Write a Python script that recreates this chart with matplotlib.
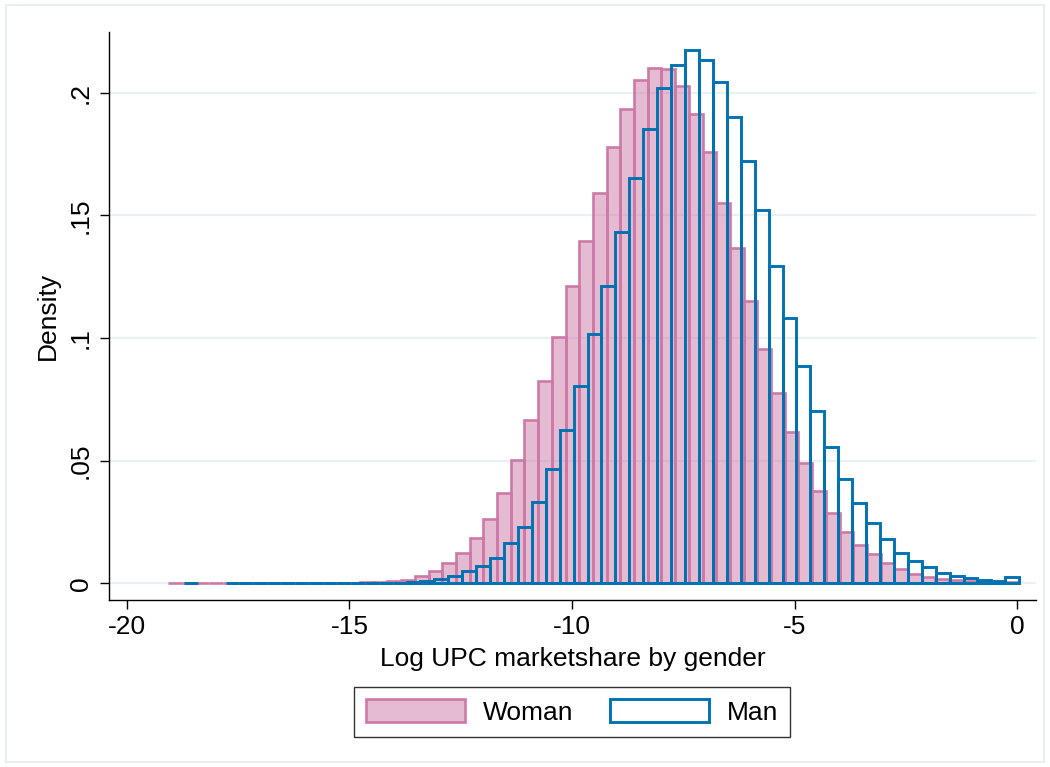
import numpy as np
import matplotlib.pyplot as plt
from matplotlib.patches import Patch, Rectangle

plt.rcParams['font.family'] = ['Liberation Sans', 'DejaVu Sans']

# histogram bins: first edge, bin width (log UPC marketshare)
woman_start, woman_width = -19.07, 0.3077
man_start, man_width = -18.72, 0.3127

# densities per bin
woman_density = [
    0.0002, 0.0002, 0.0001, 0.0001, 0.0001, 0.0001, 0.0001, 0.0001, 0.0001, 0.0001,
    0.0002, 0.0002, 0.0002, 0.0003, 0.0004, 0.0006, 0.0009, 0.0015, 0.0031, 0.0052,
    0.0082, 0.0125, 0.0186, 0.0264, 0.0367, 0.0503, 0.0666, 0.0826, 0.1005, 0.1212,
    0.1395, 0.1591, 0.1777, 0.1934, 0.2051, 0.2102, 0.2097, 0.2028, 0.1915, 0.1757,
    0.1549, 0.1365, 0.1150, 0.0954, 0.0775, 0.0616, 0.0492, 0.0378, 0.0286, 0.0211,
    0.0155, 0.0119, 0.0082, 0.0057, 0.0040, 0.0027, 0.0019, 0.0014, 0.0010, 0.0006,
    0.0002, 0.0007,
]
man_density = [
    0.0001, 0.0, 0.0, 0.0001, 0.0001, 0.0001, 0.0001, 0.0001, 0.0001, 0.0001,
    0.0001, 0.0001, 0.0001, 0.0002, 0.0002, 0.0003, 0.0005, 0.0010, 0.0018, 0.0031,
    0.0051, 0.0072, 0.0105, 0.0163, 0.0231, 0.0333, 0.0465, 0.0625, 0.0806, 0.1015,
    0.1213, 0.1433, 0.1651, 0.1850, 0.2017, 0.2112, 0.2173, 0.2134, 0.2043, 0.1899,
    0.1721, 0.1522, 0.1295, 0.1080, 0.0887, 0.0703, 0.0555, 0.0427, 0.0328, 0.0245,
    0.0181, 0.0125, 0.0093, 0.0066, 0.0044, 0.0030, 0.0021, 0.0014, 0.0009, 0.0026,
]

x_ticks = [-20, -15, -10, -5, 0]
y_ticks = [0, 0.05, 0.1, 0.15, 0.2]
y_tick_labels = ['0', '.05', '.1', '.15', '.2']

pink = '#CC79A7'
pink_fill = (0.8, 0.475, 0.655, 0.5)
blue = '#0072B2'
fs = 19

fig = plt.figure(figsize=(10.5, 7.67), dpi=100)
ax = fig.add_axes([0.1038, 0.2177, 0.8829, 0.7405])

for y in y_ticks:
    ax.axhline(y, color='#eaf1f3', lw=1.6, zorder=0)


def draw_hist(start, width, heights, **kw):
    heights = np.array(heights)
    lefts = start + width * np.arange(len(heights))
    keep = heights > 0  # empty bins are not drawn
    ax.bar(lefts[keep], heights[keep], width=width, align='edge', **kw)


draw_hist(woman_start, woman_width, woman_density,
          facecolor=pink_fill, edgecolor=pink, linewidth=1.9, zorder=2)
draw_hist(man_start, man_width, man_density,
          facecolor='none', edgecolor=blue, linewidth=2.1, zorder=3)

ax.set_xlim(-20.40, 0.42)
ax.set_ylim(-0.0068, 0.2247)
ax.set_xticks(x_ticks)
ax.set_xticklabels([str(v) for v in x_ticks])
ax.set_yticks(y_ticks)
ax.set_yticklabels(y_tick_labels, rotation=90, va='center')
ax.tick_params(direction='out', length=6.5, width=1, labelsize=fs, color='black')
ax.tick_params(axis='x', pad=4)
ax.tick_params(axis='y', pad=5)

for side in ['top', 'right']:
    ax.spines[side].set_visible(False)
for side in ['left', 'bottom']:
    ax.spines[side].set_linewidth(1.0)

ax.set_xlabel('Log UPC marketshare by gender', fontsize=fs)
ax.set_ylabel('Density', fontsize=fs)
ax.xaxis.set_label_coords(0.5, -0.082)
ax.yaxis.set_label_coords(-0.053, 0.5)

handles = [
    Patch(facecolor=pink_fill, edgecolor=pink, linewidth=1.9, label='Woman'),
    Patch(facecolor='white', edgecolor=blue, linewidth=2.1, label='Man'),
]
leg = fig.legend(handles=handles, ncol=2, loc='center',
                 bbox_to_anchor=(572 / 1050, 1 - 712 / 767),
                 fontsize=fs, frameon=True, fancybox=False,
                 handlelength=3.75, handleheight=0.95, handletextpad=0.68,
                 columnspacing=1.4, borderpad=0.45, borderaxespad=0)
leg.get_frame().set_edgecolor('black')
leg.get_frame().set_linewidth(1.0)

# light outer frame
fig.patches.append(Rectangle((6 / 1050, 5 / 767), 1038 / 1050, 757 / 767,
                             transform=fig.transFigure, fill=False,
                             edgecolor='#e9eff1', linewidth=1.5))

fig.savefig('out.png', dpi=100)
